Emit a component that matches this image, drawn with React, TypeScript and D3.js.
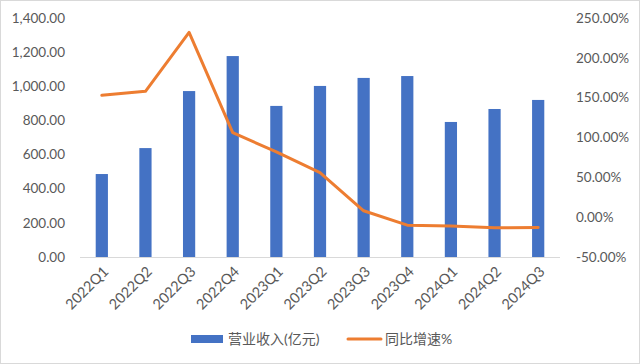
import React from "react";
import * as d3 from "d3";

const categories = ["2022Q1","2022Q2","2022Q3","2022Q4","2023Q1","2023Q2","2023Q3","2023Q4","2024Q1","2024Q2","2024Q3"];
const revenue = [486, 638, 972, 1177, 885, 1002, 1049, 1060, 791, 867, 920];
const growth = [153, 158, 232, 106, 82, 56, 8, -10, -11, -13.4, -13];
const leftTicks = [0, 200, 400, 600, 800, 1000, 1200, 1400];
const rightTicks = [-50, 0, 50, 100, 150, 200, 250];
const seriesNames = ["营业收入(亿元)", "同比增速%"];

const W = 640, H = 364;
const plot = { left: 80, right: 560, top: 18, bottom: 257 };
const font = "Lato, 'Noto Sans CJK SC', sans-serif";
const textColor = "#595959";

export default function App() {
  const x = d3.scaleBand<string>().domain(categories).range([plot.left, plot.right]);
  const yL = d3.scaleLinear().domain([0, 1400]).range([plot.bottom, plot.top]);
  const yR = d3.scaleLinear().domain([-50, 250]).range([plot.bottom, plot.top]);
  const bw = x.bandwidth() * 0.28;
  const cx = (c: string) => (x(c) as number) + x.bandwidth() / 2;
  const line = d3.line<number>().x((_, i) => cx(categories[i])).y((d) => yR(d));
  const fmtL = d3.format(",.2f");
  const fmtR = (v: number) => v.toFixed(2) + "%";

  return (
    <svg width={W} height={H} style={{ position: "fixed", left: 0, top: 0, background: "#fff" }} fontFamily={font}>
      <rect x={0.5} y={0.5} width={W - 1} height={H - 1} fill="#fff" stroke="#d9d9d9" />
      {revenue.map((v, i) => (
        <rect key={i} x={cx(categories[i]) - bw / 2} y={yL(v)} width={bw} height={yL(0) - yL(v)} fill="#4472C4" />
      ))}
      <line x1={plot.left} x2={plot.right} y1={plot.bottom + 0.5} y2={plot.bottom + 0.5} stroke="#d9d9d9" />
      <path d={line(growth) || ""} fill="none" stroke="#ED7D31" strokeWidth={3} strokeLinejoin="round" strokeLinecap="round" />
      {leftTicks.map((t) => (
        <text key={t} x={65} y={yL(t)} dy="0.35em" textAnchor="end" fontSize={13.5} fill={textColor}>{fmtL(t)}</text>
      ))}
      {rightTicks.map((t) => (
        <text key={t} x={576} y={yR(t)} dy="0.35em" textAnchor="start" fontSize={13.5} fill={textColor}>{fmtR(t)}</text>
      ))}
      {categories.map((c) => (
        <text key={c} transform={`translate(${cx(c) + 4},${plot.bottom + 12}) rotate(-45)`} textAnchor="end" dy="0.35em" fontSize={14.5} fill={textColor}>{c}</text>
      ))}
      <rect x={191} y={335} width={32} height={8} fill="#4472C4" />
      <text x={228} y={339} dy="0.35em" fontSize={14} fill={textColor}>{seriesNames[0]}</text>
      <line x1={348} x2={381} y1={339} y2={339} stroke="#ED7D31" strokeWidth={3} strokeLinecap="round" />
      <text x={385} y={339} dy="0.35em" fontSize={14} fill={textColor}>{seriesNames[1]}</text>
    </svg>
  );
}
